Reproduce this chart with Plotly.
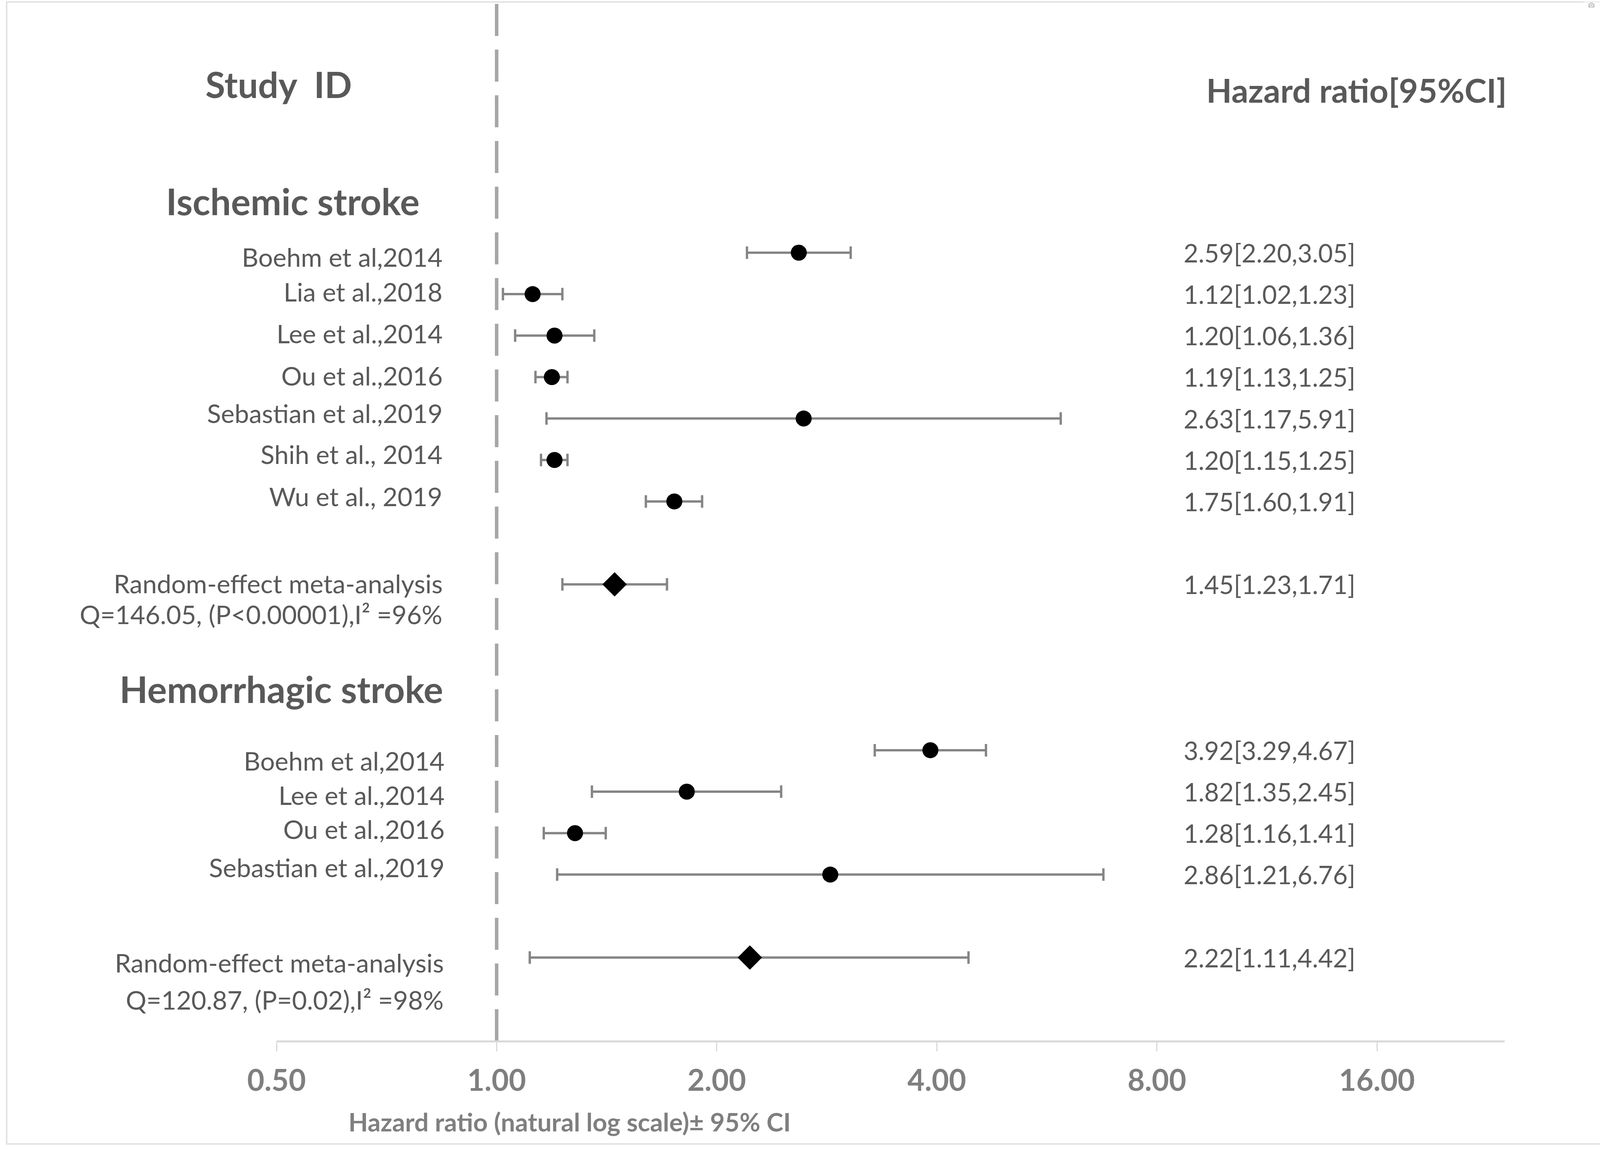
import math
import plotly.graph_objects as go

# ---------------- data ----------------
isch_studies = ["Boehm et al,2014", "Lia et al.,2018", "Lee et al.,2014", "Ou et al.,2016",
                "Sebastian et al.,2019", "Shih et al., 2014", "Wu et al., 2019"]
isch_hr = [2.59, 1.12, 1.20, 1.19, 2.63, 1.20, 1.75]
isch_lo = [2.20, 1.02, 1.06, 1.13, 1.17, 1.15, 1.60]
isch_hi = [3.05, 1.23, 1.36, 1.25, 5.91, 1.25, 1.91]
isch_meta_hr = [1.45]
isch_meta_lo = [1.23]
isch_meta_hi = [1.71]
isch_meta_label = "Random-effect meta-analysis"
isch_meta_stats = "Q=146.05, (P<0.00001),I² =96%"

hem_studies = ["Boehm et al,2014", "Lee et al.,2014", "Ou et al.,2016", "Sebastian et al.,2019"]
hem_hr = [3.92, 1.82, 1.28, 2.86]
hem_lo = [3.29, 1.35, 1.16, 1.21]
hem_hi = [4.67, 2.45, 1.41, 6.76]
hem_meta_hr = [2.22]
hem_meta_lo = [1.11]
hem_meta_hi = [4.42]
hem_meta_label = "Random-effect meta-analysis"
hem_meta_stats = "Q=120.87, (P=0.02),I² =98%"

tick_vals = [0.5, 1, 2, 4, 8, 16]
tick_text = ["0.50", "1.00", "2.00", "4.00", "8.00", "16.00"]
x_title = "Hazard ratio (natural log scale)± 95% CI"
ref_value = 1.0

# ---------------- layout geometry ----------------
W, H = 4328, 2942
L, R, T, B = 708, 476, 10, 278
PW, PH = W - L - R, H - T - B
PX_PER_DOUBLING = 563.4
x_max_log = math.log10(0.5) + PW / PX_PER_DOUBLING * math.log10(2)

isch_rows = list(range(1, 8))
isch_meta_row = 9
hem_rows = list(range(13, 17))
hem_meta_row = 18
isch_label_rows = [1.10, 1.94, 2.95, 3.96, 4.87, 5.86, 6.87]
hem_label_rows = [13.25, 14.08, 14.90, 15.82]


def fmt(h, lo, hi):
    return f"{h:.2f}[{lo:.2f},{hi:.2f}]"


def px_x(p):
    return (p - L) / PW


def px_y(p):
    return (H - B - p) / PH


FONT = "Lato"
TXT = "#595959"
ERR = "#858585"

fig = go.Figure()


def add_points(hr, lo, hi, rows, symbol, size):
    fig.add_trace(go.Scatter(
        x=hr, y=rows, mode="markers",
        marker=dict(symbol=symbol, size=size, color="black", line=dict(width=0)),
        error_x=dict(type="data", symmetric=False,
                     array=[h2 - h for h, h2 in zip(hr, hi)],
                     arrayminus=[h - l for h, l in zip(hr, lo)],
                     color=ERR, thickness=6, width=16),
        showlegend=False, hoverinfo="x+y"))


add_points(isch_hr, isch_lo, isch_hi, isch_rows, "circle", 41)
add_points(isch_meta_hr, isch_meta_lo, isch_meta_hi, [isch_meta_row], "diamond", 48)
add_points(hem_hr, hem_lo, hem_hi, hem_rows, "circle", 41)
add_points(hem_meta_hr, hem_meta_lo, hem_meta_hi, [hem_meta_row], "diamond", 48)

ann = []


def label(text, row, size=66, x_px=1135, anchor="right", bold=False, color=TXT):
    ann.append(dict(text=text, x=px_x(x_px), xref="paper", y=row, yref="y",
                    xanchor=anchor, yanchor="middle", showarrow=False,
                    font=dict(family=FONT, size=size, color=color,
                              weight="bold" if bold else "normal")))


# headers
label("Study  ID", -3.06, size=92, x_px=713, anchor="center", bold=True)
label("Hazard ratio[95%CI]", -2.93, size=85, x_px=3086, anchor="left", bold=True)
label("Ischemic stroke", -0.25, size=94, x_px=749, anchor="center", bold=True)
label("Hemorrhagic stroke", 11.52, size=94, x_px=720, anchor="center", bold=True)

for s, r in zip(isch_studies, isch_label_rows):
    label(s, r)
label(isch_meta_label, 8.97)
label(isch_meta_stats, 9.72)
for s, r in zip(hem_studies, hem_label_rows):
    label(s, r, x_px=1140)
label(hem_meta_label, 18.12, x_px=1138)
label(hem_meta_stats, 19.02, x_px=1138)

# HR text column
for h, lo, hi, r in zip(isch_hr + isch_meta_hr, isch_lo + isch_meta_lo, isch_hi + isch_meta_hi,
                        isch_rows + [isch_meta_row]):
    label(fmt(h, lo, hi), r, size=65, x_px=3028, anchor="left")
for h, lo, hi, r in zip(hem_hr + hem_meta_hr, hem_lo + hem_meta_lo, hem_hi + hem_meta_hi,
                        hem_rows + [hem_meta_row]):
    label(fmt(h, lo, hi), r, size=65, x_px=3028, anchor="left")

# axis title
ann.append(dict(text=x_title, x=px_x(1458), xref="paper", y=px_y(2872), yref="paper",
                xanchor="center", yanchor="middle", showarrow=False,
                font=dict(family=FONT, size=65, color="#7f7f7f", weight="bold")))

shapes = [
    # reference line at HR = 1
    dict(type="line", xref="x", yref="y", x0=ref_value, x1=ref_value, y0=-5, y1=20,
         line=dict(color="#a6a6a6", width=9, dash="82px,35px"), layer="below"),
    # outer border
    dict(type="rect", xref="paper", yref="paper",
         x0=px_x(17), x1=px_x(4317), y0=px_y(2929), y1=px_y(5),
         line=dict(color="#e3e3e3", width=4), layer="below"),
]

fig.update_layout(
    width=W, height=H, autosize=False,
    margin=dict(l=L, r=R, t=T, b=B, pad=0),
    paper_bgcolor="white", plot_bgcolor="white",
    showlegend=False,
    annotations=ann, shapes=shapes,
    xaxis=dict(type="log", range=[math.log10(0.5), x_max_log],
               tickvals=tick_vals, ticktext=tick_text,
               ticks="outside", ticklen=23, tickwidth=3, tickcolor="#d9d9d9",
               showline=True, linecolor="#d9d9d9", linewidth=5,
               showgrid=False, zeroline=False, ticklabelstandoff=10,
               tickfont=dict(family=FONT, size=76, color="#7f7f7f", weight="bold")),
    yaxis=dict(range=[20, -5], visible=False, showgrid=False, zeroline=False),
)

fig.write_html("out.html", post_script="document.body.style.margin='0';")
